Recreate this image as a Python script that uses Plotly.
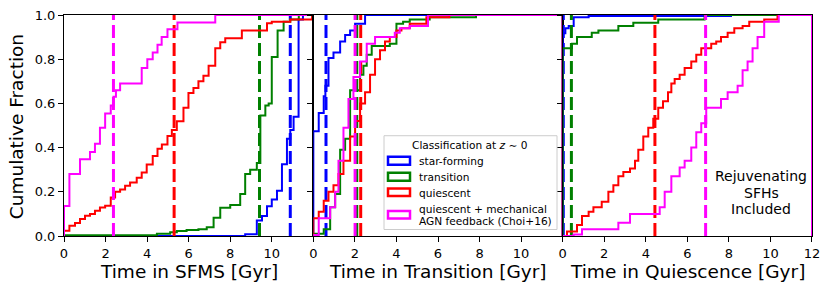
import plotly.graph_objects as go

# ---------------- data (step edges [Gyr] and cumulative fraction after each edge) ----------------
classes = ["star-forming", "transition", "quiescent", "quiescent + mechanical", "AGN feedback (Choi+16)"]
colors = ["#0000ff", "#008000", "#ff0000", "#ff00ff"]
panel_titles = ["Time in SFMS [Gyr]", "Time in Transition [Gyr]", "Time in Quiescence [Gyr]"]
note_lines = ["Rejuvenating", "SFHs", "Included"]

# Panel 1: Time in SFMS
sfms_sf_x = [8.72, 9.28, 9.53, 9.77, 10.0, 10.25, 10.49, 10.73, 10.89, 11.05, 11.29, 11.5]
sfms_sf_y = [0.008, 0.07, 0.09, 0.135, 0.165, 0.205, 0.325, 0.44, 0.48, 0.54, 0.98, 1.0]
sfms_tr_x = [0.0, 4.47, 5.11, 5.43, 5.9, 6.47, 6.87, 7.2, 7.52, 8.0, 8.48, 8.72, 8.96, 9.28, 9.45, 9.69, 9.85, 10.0, 10.28, 10.57, 10.89, 11.3]
sfms_tr_y = [0.003, 0.01, 0.017, 0.023, 0.027, 0.03, 0.04, 0.083, 0.128, 0.14, 0.19, 0.28, 0.30, 0.33, 0.545, 0.59, 0.60, 0.81, 0.93, 0.97, 0.98, 1.0]
sfms_q_x = [0.0, 0.26, 0.53, 0.77, 1.01, 1.25, 1.49, 1.73, 1.98, 2.25, 2.46, 2.70, 2.94, 3.18, 3.5, 3.74, 3.98, 4.27, 4.5, 4.71, 4.98, 5.19, 5.43, 5.75, 5.99, 6.23, 6.47, 6.71, 6.96, 7.28, 7.52, 7.76, 8.56, 9.77, 10.0, 10.89, 11.94]
sfms_q_y = [0.024, 0.046, 0.059, 0.077, 0.092, 0.10, 0.114, 0.129, 0.137, 0.174, 0.20, 0.21, 0.227, 0.242, 0.264, 0.287, 0.324, 0.362, 0.395, 0.414, 0.452, 0.48, 0.519, 0.58, 0.647, 0.67, 0.70, 0.725, 0.77, 0.85, 0.877, 0.895, 0.93, 0.963, 0.97, 0.98, 1.0]
sfms_agn_x = [0.0, 0.26, 0.77, 1.25, 1.49, 1.73, 1.98, 2.25, 2.38, 2.5, 2.7, 3.74, 4.01, 4.27, 4.5, 4.7, 4.98, 5.46, 7.28]
sfms_agn_y = [0.136, 0.28, 0.347, 0.38, 0.417, 0.49, 0.554, 0.59, 0.63, 0.66, 0.69, 0.76, 0.80, 0.83, 0.865, 0.90, 0.936, 0.966, 1.0]

# Panel 2: Time in Transition
tr_sf_x = [0.0, 0.26, 0.5, 0.58, 0.73, 0.97, 1.29, 1.53, 1.77, 2.01, 2.49]
tr_sf_y = [0.474, 0.557, 0.632, 0.68, 0.805, 0.83, 0.88, 0.91, 0.93, 0.96, 1.0]
tr_tr_x = [0.0, 0.5, 0.81, 1.05, 1.29, 1.53, 1.77, 2.25, 2.41, 2.57, 2.81, 3.68, 4.0, 4.32, 4.64, 5.6, 7.83]
tr_tr_y = [0.01, 0.03, 0.13, 0.19, 0.39, 0.44, 0.66, 0.73, 0.77, 0.82, 0.86, 0.87, 0.96, 0.97, 0.98, 0.99, 1.0]
tr_q_x = [0.0, 0.26, 0.5, 0.73, 0.97, 1.21, 1.45, 1.77, 2.01, 2.25, 2.49, 2.73, 2.97, 3.21, 3.45, 3.68, 4.0, 4.24, 4.64, 5.44, 6.55]
tr_q_y = [0.08, 0.11, 0.16, 0.20, 0.23, 0.28, 0.34, 0.45, 0.52, 0.60, 0.65, 0.73, 0.80, 0.84, 0.88, 0.90, 0.93, 0.94, 0.96, 0.99, 1.0]
tr_agn_x = [0.0, 0.26, 0.81, 1.05, 1.21, 1.45, 1.69, 1.93, 2.25, 2.57, 2.97, 3.92, 4.16, 4.64, 5.52]
tr_agn_y = [0.005, 0.08, 0.13, 0.20, 0.34, 0.49, 0.62, 0.72, 0.79, 0.87, 0.90, 0.92, 0.94, 0.95, 1.0]

# Panel 3: Time in Quiescence
q_sf_x = [0.0, 0.13, 0.29, 0.53, 1.25, 8.1]
q_sf_y = [0.917, 0.94, 0.95, 0.99, 0.995, 1.0]
q_tr_x = [0.0, 0.45, 0.69, 1.4, 1.72, 2.68, 3.4, 4.6, 6.83]
q_tr_y = [0.85, 0.87, 0.90, 0.92, 0.93, 0.95, 0.965, 0.98, 1.0]
q_q_x = [0.21, 0.69, 0.93, 1.25, 1.48, 1.88, 2.2, 2.44, 2.68, 2.92, 3.24, 3.48, 3.64, 3.88, 4.12, 4.36, 4.6, 4.83, 5.07, 5.23, 5.39, 5.63, 5.87, 6.19, 6.43, 6.67, 7.15, 7.39, 7.62, 7.94, 8.26, 8.66, 8.98, 9.7, 10.34]
q_q_y = [0.02, 0.05, 0.09, 0.11, 0.13, 0.155, 0.20, 0.23, 0.27, 0.29, 0.305, 0.34, 0.39, 0.45, 0.49, 0.53, 0.58, 0.61, 0.65, 0.69, 0.71, 0.73, 0.76, 0.79, 0.82, 0.85, 0.87, 0.88, 0.90, 0.92, 0.94, 0.95, 0.97, 0.98, 1.0]
q_agn_x = [0.53, 0.93, 2.68, 3.24, 4.67, 4.91, 5.23, 5.63, 5.87, 6.19, 6.43, 6.67, 6.91, 7.62, 7.94, 8.42, 8.66, 8.9, 9.14, 9.38, 9.7, 10.4]
q_agn_y = [0.007, 0.03, 0.06, 0.10, 0.13, 0.20, 0.27, 0.31, 0.34, 0.40, 0.47, 0.51, 0.58, 0.62, 0.65, 0.68, 0.75, 0.79, 0.85, 0.90, 0.97, 1.0]

# medians (dashed lines) per panel, in class order
medians_sfms = [10.89, 9.41, 5.3, 2.38]
medians_trans = [0.61, 2.09, 2.28, 2.01]
medians_quies = [0.03, 0.42, 4.44, 6.88]

panels = [
    ([(sfms_sf_x, sfms_sf_y), (sfms_tr_x, sfms_tr_y), (sfms_q_x, sfms_q_y), (sfms_agn_x, sfms_agn_y)], medians_sfms),
    ([(tr_sf_x, tr_sf_y), (tr_tr_x, tr_tr_y), (tr_q_x, tr_q_y), (tr_agn_x, tr_agn_y)], medians_trans),
    ([(q_sf_x, q_sf_y), (q_tr_x, q_tr_y), (q_q_x, q_q_y), (q_agn_x, q_agn_y)], medians_quies),
]
XMAX = 12.0

# ---------------- figure ----------------
W, H = 831, 293
L, R, T, B = 64, 812, 15, 236.5
fig = go.Figure()

def px(x):
    return (x - L) / (R - L)

def py(y):
    return (B - y) / (B - T)

for p, (series, meds) in enumerate(panels):
    xa = "x" if p == 0 else f"x{p+1}"
    ya = "y" if p == 0 else f"y{p+1}"
    for c, ((ex, ey), med) in enumerate(zip(series, meds)):
        xs = [0.0] + list(ex) + [XMAX, XMAX]
        ys = [0.0] + list(ey) + [ey[-1], 0.0]
        fig.add_trace(go.Scatter(x=xs, y=ys, mode="lines", line=dict(color=colors[c], width=2, shape="hv"),
                                 xaxis=xa, yaxis=ya, showlegend=False, hoverinfo="skip"))
        fig.add_trace(go.Scatter(x=[med, med], y=[0, 1], mode="lines",
                                 line=dict(color=colors[c], width=3, dash="13px,5px"),
                                 xaxis=xa, yaxis=ya, showlegend=False, hoverinfo="skip"))

axis_common = dict(showline=True, linecolor="black", linewidth=1, mirror=True, ticks="outside",
                   ticklen=5, tickwidth=1, tickcolor="black", showgrid=False, zeroline=False,
                   automargin=False,
                   tickfont=dict(family="DejaVu Sans", size=13, color="black"))
layout = dict(width=W, height=H, margin=dict(l=L, r=W - R, t=T, b=H - B, autoexpand=False),
              paper_bgcolor="white", plot_bgcolor="white", showlegend=False)
for p in range(3):
    xk = "xaxis" if p == 0 else f"xaxis{p+1}"
    yk = "yaxis" if p == 0 else f"yaxis{p+1}"
    tv = [0, 2, 4, 6, 8, 10, 12] if p == 2 else [0, 2, 4, 6, 8, 10]
    layout[xk] = dict(axis_common, domain=[p / 3, (p + 1) / 3], range=[0, XMAX], tickvals=tv,
                      ticktext=[str(v) for v in tv], anchor="y" if p == 0 else f"y{p+1}")
    layout[yk] = dict(axis_common, range=[0, 1], tickvals=[0, 0.2, 0.4, 0.6, 0.8, 1.0],
                      ticktext=["0.0", "0.2", "0.4", "0.6", "0.8", "1.0"],
                      showticklabels=(p == 0), anchor="x" if p == 0 else f"x{p+1}")
fig.update_layout(**layout)

# ---------------- axis titles + manual legend (matplotlib-style patches) ----------------
title_font = dict(family="DejaVu Sans", size=18.5, color="black")
annots = []
for p in range(3):
    annots.append(dict(xref="paper", yref="paper", x=(p + 0.5) / 3, y=py(272.5), text=panel_titles[p],
                       showarrow=False, xanchor="center", yanchor="middle", font=title_font))
annots.append(dict(xref="paper", yref="paper", x=px(16.5), y=py(127), text="Cumulative Fraction",
                   textangle=-90, showarrow=False, xanchor="center", yanchor="middle", font=title_font))

leg_font = dict(family="DejaVu Sans", size=10.6, color="black")
shapes = [dict(type="rect", xref="paper", yref="paper", x0=px(384), x1=px(557), y0=py(230), y1=py(136),
               line=dict(color="#cccccc", width=1), fillcolor="rgba(255,255,255,0.85)", layer="above")]
annots.append(dict(xref="paper", yref="paper", x=px(470), y=py(145.5), text="Classification at <i>z</i> ∼ 0",
                   showarrow=False, xanchor="center", yanchor="middle", font=leg_font))
patch_y = [(157, 165), (173, 181), (189, 196.5), (211.5, 219)]
text_y = [161.5, 177, 193, 209.5, 221.5]
for c in range(4):
    shapes.append(dict(type="rect", xref="paper", yref="paper", x0=px(388), x1=px(410),
                       y0=py(patch_y[c][1]), y1=py(patch_y[c][0]),
                       line=dict(color=colors[c], width=2.5), fillcolor="white", layer="above"))
for i, lab in enumerate(classes):
    annots.append(dict(xref="paper", yref="paper", x=px(417), y=py(text_y[i]), text=lab,
                       showarrow=False, xanchor="left", yanchor="middle", align="left", font=leg_font))
for i, line in enumerate(note_lines):
    annots.append(dict(xref="paper", yref="paper", x=px(761), y=py(176.7 + 16.3 * i), text=line,
                       showarrow=False, xanchor="center", yanchor="middle",
                       font=dict(family="DejaVu Sans", size=14, color="black")))
fig.update_layout(shapes=shapes, annotations=annots)

fig.write_html("out.html", post_script="document.body.style.margin='0';",
               config={"displayModeBar": False})
